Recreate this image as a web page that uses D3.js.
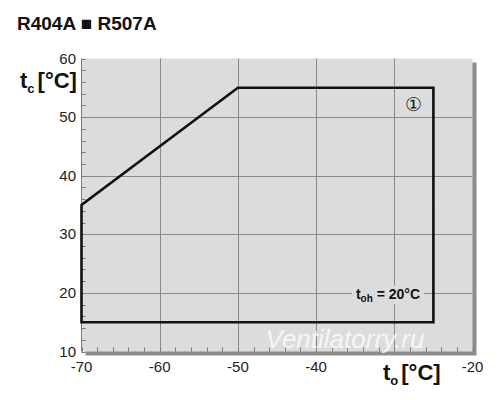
<!DOCTYPE html>
<html><head><meta charset="utf-8">
<script src="https://cdn.jsdelivr.net/npm/d3@7"></script>
<style>body{margin:0;background:#fff}svg{display:block;font-family:"Liberation Sans",Arial,sans-serif}</style>
</head><body>
<svg id="c" width="500" height="400"></svg>
<script>
const xTicks = [-70, -60, -50, -40, -30, -20];
const xTickLabels = [-70, -60, -50, -40, -20];
const yTicks = [10, 20, 30, 40, 50, 60];
const envelopeTo = [-70, -70, -50, -25, -25, -70];
const envelopeTc = [15, 35, 55, 55, 15, 15];
const title = "R404A \u25A0 R507A";

const svg = d3.select("#c");
const x = d3.scaleLinear().domain([-70, -20]).range([81.5, 472.5]);
const y = d3.scaleLinear().domain([10, 60]).range([351.5, 58.5]);

// shadow
svg.append("rect").attr("x", x(-70) + 4).attr("y", y(60) + 4)
  .attr("width", x(-20) - x(-70)).attr("height", y(10) - y(60))
  .attr("fill", "#8c8c8c");
// plot area
svg.append("rect").attr("x", x(-70)).attr("y", y(60))
  .attr("width", x(-20) - x(-70)).attr("height", y(10) - y(60))
  .attr("fill", "#dcdcdc");

// grid
svg.append("g").selectAll("line").data(xTicks.slice(1, -1)).join("line")
  .attr("x1", d => Math.round(x(d)) + 0.5).attr("x2", d => Math.round(x(d)) + 0.5)
  .attr("y1", y(60)).attr("y2", y(10)).attr("stroke", "#8a8a8a").attr("stroke-width", 1);
svg.append("g").selectAll("line").data(yTicks.slice(1, -1)).join("line")
  .attr("y1", d => Math.round(y(d)) + 0.5).attr("y2", d => Math.round(y(d)) + 0.5)
  .attr("x1", x(-70)).attr("x2", x(-20)).attr("stroke", "#8a8a8a").attr("stroke-width", 1);

// minor ticks
const yMinor = d3.range(10, 60.1, 2);
svg.append("g").selectAll("line").data(yMinor).join("line")
  .attr("x1", x(-70)).attr("x2", x(-70) + 4)
  .attr("y1", d => Math.round(y(d)) + 0.5).attr("y2", d => Math.round(y(d)) + 0.5)
  .attr("stroke", "#7a7a7a");
const xMinor = d3.range(-70, -19.9, 2);
svg.append("g").selectAll("line").data(xMinor).join("line")
  .attr("y1", y(10)).attr("y2", y(10) - 4)
  .attr("x1", d => Math.round(x(d)) + 0.5).attr("x2", d => Math.round(x(d)) + 0.5)
  .attr("stroke", "#7a7a7a");
// left axis line
svg.append("line").attr("x1", x(-70)).attr("x2", x(-70)).attr("y1", y(60)).attr("y2", y(10))
  .attr("stroke", "#7a7a7a");

// tick labels
svg.append("g").selectAll("text").data(yTicks).join("text")
  .attr("x", 76).attr("y", d => y(d) + 5).attr("text-anchor", "end")
  .attr("font-size", 15).attr("fill", "#222").text(d => d);
svg.append("g").selectAll("text").data(xTickLabels).join("text")
  .attr("x", d => x(d)).attr("y", 372).attr("text-anchor", "middle")
  .attr("font-size", 15).attr("fill", "#222").text(d => d);

// watermark
svg.append("text").attr("x", 345).attr("y", 348).attr("text-anchor", "middle")
  .attr("font-size", 26).attr("font-style", "italic").attr("fill", "#ffffff").attr("opacity", 0.75)
  .text("Ventilatorry.ru");

// envelope
const pts = envelopeTo.map((t, i) => [x(t), y(envelopeTc[i])]);
svg.append("path").attr("d", d3.line()(pts) + "Z")
  .attr("fill", "none").attr("stroke", "#111").attr("stroke-width", 2.6).attr("stroke-linejoin", "miter");

// labels inside
const lab = svg.append("text").attr("x", 388).attr("y", 299).attr("text-anchor", "middle")
  .attr("font-size", 14).attr("font-weight", "bold").attr("fill", "#111");
lab.append("tspan").text("t");
lab.append("tspan").attr("font-size", 10).attr("dy", 3).text("oh");
lab.append("tspan").attr("dy", -3).text(" = 20\u00B0C");
const bb = lab.node().getBBox();
svg.insert("rect", () => lab.node()).attr("x", bb.x - 4).attr("y", bb.y).attr("width", bb.width + 8).attr("height", bb.height)
  .attr("fill", "#dcdcdc");

svg.append("text").attr("x", 413).attr("y", 111).attr("text-anchor", "middle")
  .attr("font-size", 19).attr("fill", "#222").text("\u2460");

// title
svg.append("text").attr("x", 17).attr("y", 30).attr("font-size", 19).attr("font-weight", "bold")
  .attr("fill", "#111").text(title);

// axis titles
const yl = svg.append("text").attr("x", 20).attr("y", 88).attr("font-size", 22).attr("font-weight", "bold").attr("fill", "#111");
yl.append("tspan").text("t");
yl.append("tspan").attr("font-size", 13).attr("dy", 5).text("c");
yl.append("tspan").attr("dy", -5).attr("dx", 3).text("[\u00B0C]");
const xl = svg.append("text").attr("x", 383).attr("y", 380).attr("font-size", 22).attr("font-weight", "bold").attr("fill", "#111");
xl.append("tspan").text("t");
xl.append("tspan").attr("font-size", 13).attr("dy", 5).text("o");
xl.append("tspan").attr("dy", -5).attr("dx", 3).text("[\u00B0C]");
</script>
</body></html>
